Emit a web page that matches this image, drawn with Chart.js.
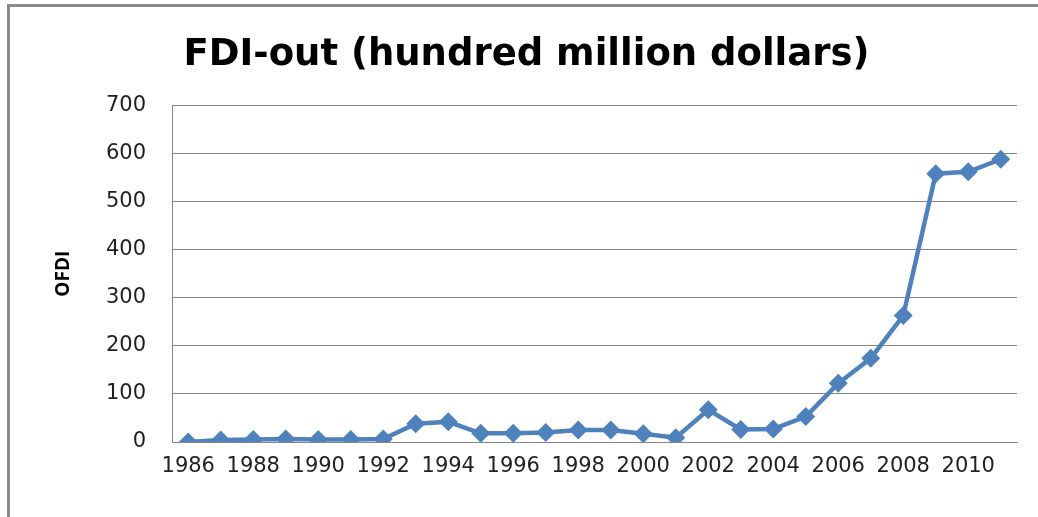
<!DOCTYPE html>
<html>
<head>
<meta charset="utf-8">
<script src="https://cdn.jsdelivr.net/npm/chart.js@4/dist/chart.umd.min.js"></script>
<style>
  html, body { margin: 0; padding: 0; background: #fff; }
  #wrap { width: 1038px; height: 517px; position: relative; }
</style>
</head>
<body>
<div id="wrap"><canvas id="fdiChart" width="1038" height="517"></canvas></div>
<script>
const years = ['1986', '1987', '1988', '1989', '1990', '1991', '1992', '1993', '1994', '1995',
  '1996', '1997', '1998', '1999', '2000', '2001', '2002', '2003', '2004', '2005',
  '2006', '2007', '2008', '2009', '2010', '2011'];
const ofdi = [0, 4, 5, 6, 5, 5, 6, 38, 42, 18,
  18, 20, 25, 25, 17, 9, 67, 26, 27, 53,
  122, 174, 263, 558, 562, 588];
const yTicks = [0, 100, 200, 300, 400, 500, 600, 700];

// grey frame on the left and top edge, as in the screenshot
const framePlugin = {
  id: 'frame',
  beforeDraw(chart) {
    const ctx = chart.ctx;
    ctx.save();
    ctx.strokeStyle = '#8a8a8a';
    ctx.lineWidth = 3;
    ctx.beginPath();
    ctx.moveTo(8.5, 517);
    ctx.lineTo(8.5, 5.5);
    ctx.lineTo(1038, 5.5);
    ctx.stroke();
    ctx.restore();
  }
};

const fdiChart = new Chart(document.getElementById('fdiChart'), {
  type: 'line',
  data: {
    labels: years,
    datasets: [{
      label: 'OFDI',
      data: ofdi,
      borderColor: '#4f81bd',
      backgroundColor: '#4f81bd',
      borderWidth: 4.5,
      pointStyle: 'rectRot',
      pointRadius: 9.5,
      pointHoverRadius: 9.5,
      pointBorderWidth: 0,
      tension: 0
    }]
  },
  options: {
    responsive: false,
    animation: false,
    layout: { padding: { left: 36, right: 21, top: 0, bottom: 0 } },
    plugins: {
      legend: { display: false },
      tooltip: { enabled: false },
      title: {
        display: true,
        text: 'FDI-out (hundred million dollars)',
        color: '#000',
        font: { family: 'DejaVu Sans', size: 37, weight: 'bold', lineHeight: 1.2 },
        padding: { top: 33, bottom: 28 }
      }
    },
    scales: {
      x: {
        offset: true,
        grid: { display: false, drawTicks: false },
        border: { display: true, color: '#868686', width: 1 },
        ticks: {
          autoSkip: false,
          maxRotation: 0,
          padding: 12,
          color: '#222',
          font: { family: 'DejaVu Sans', size: 21 },
          callback: function (value, index) {
            return index % 2 === 0 ? this.getLabelForValue(value) : '';
          }
        },
        afterFit(scale) { scale.height = 75; }
      },
      y: {
        min: 0,
        max: 700,
        afterBuildTicks(scale) { scale.ticks = yTicks.map(v => ({ value: v })); },
        grid: { color: '#868686', lineWidth: 1, drawTicks: false },
        border: { display: true, color: '#868686', width: 1 },
        ticks: {
          padding: 26,
          color: '#222',
          font: { family: 'DejaVu Sans', size: 21 }
        },
        title: {
          display: true,
          text: 'OFDI',
          color: '#000',
          font: { family: 'Open Sans', size: 19, weight: 'bold', lineHeight: 1.2 },
          padding: { top: 16, bottom: 0 }
        },
        afterFit(scale) { scale.width = 136; }
      }
    }
  },
  plugins: [framePlugin]
});
</script>
</body>
</html>
